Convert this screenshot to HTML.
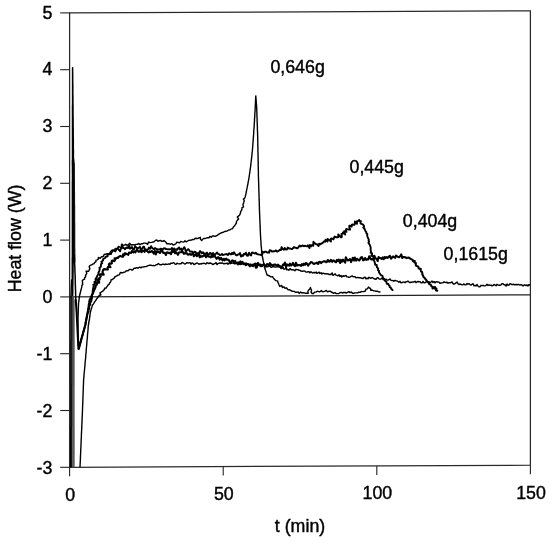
<!DOCTYPE html>
<html><head><meta charset="utf-8"><style>
html,body{margin:0;padding:0;background:#fff;}
svg{display:block;filter:grayscale(1);}
text{fill:#000;stroke:#000;stroke-width:0.4px;}
</style></head><body>
<svg width="550" height="542" viewBox="0 0 550 542">
<rect width="550" height="542" fill="#fff"/>
<defs><clipPath id="c"><polygon points="66.6,11.90 530.4,9.80 530.4,465.20 66.6,467.30"/></clipPath></defs>
<polygon points="69.6,12.90 530.4,10.80 530.4,465.20 69.6,467.30" fill="none" stroke="#2a2a2a" stroke-width="1.25"/><line x1="69.60" y1="296.90" x2="530.40" y2="294.80" stroke="#222" stroke-width="1.2"/><line x1="60.20" y1="467.30" x2="69.60" y2="467.30" stroke="#222" stroke-width="1.1"/><line x1="60.20" y1="410.50" x2="69.60" y2="410.50" stroke="#222" stroke-width="1.1"/><line x1="60.20" y1="353.70" x2="69.60" y2="353.70" stroke="#222" stroke-width="1.1"/><line x1="60.20" y1="296.90" x2="69.60" y2="296.90" stroke="#222" stroke-width="1.1"/><line x1="60.20" y1="240.10" x2="69.60" y2="240.10" stroke="#222" stroke-width="1.1"/><line x1="60.20" y1="183.30" x2="69.60" y2="183.30" stroke="#222" stroke-width="1.1"/><line x1="60.20" y1="126.50" x2="69.60" y2="126.50" stroke="#222" stroke-width="1.1"/><line x1="60.20" y1="69.70" x2="69.60" y2="69.70" stroke="#222" stroke-width="1.1"/><line x1="60.20" y1="12.90" x2="69.60" y2="12.90" stroke="#222" stroke-width="1.1"/><line x1="69.60" y1="467.30" x2="69.60" y2="476.30" stroke="#222" stroke-width="1.1"/><line x1="223.20" y1="466.60" x2="223.20" y2="475.60" stroke="#222" stroke-width="1.1"/><line x1="376.80" y1="465.90" x2="376.80" y2="474.90" stroke="#222" stroke-width="1.1"/><line x1="530.40" y1="465.20" x2="530.40" y2="474.20" stroke="#222" stroke-width="1.1"/>
<g clip-path="url(#c)">
<polyline points="72.3,297.0 72.3,295.0 72.3,293.0 72.3,291.0 72.3,289.0 72.3,286.9 72.3,284.9 72.3,282.9 72.3,280.9 72.3,278.9 72.3,276.9 72.3,274.9 72.3,272.9 72.3,270.9 72.3,268.8 72.3,266.8 72.3,264.8 72.3,262.8 72.3,260.8 72.3,258.8 72.4,256.8 72.4,254.8 72.4,252.7 72.4,250.7 72.4,248.7 72.4,246.7 72.4,244.7 72.4,242.7 72.4,240.7 72.4,238.7 72.4,236.7 72.4,234.6 72.4,232.6 72.4,230.6 72.4,228.6 72.4,226.6 72.4,224.6 72.4,222.6 72.4,220.6 72.4,218.6 72.4,216.5 72.4,214.5 72.4,212.5 72.4,210.5 72.4,208.5 72.4,206.5 72.4,204.5 72.4,202.5 72.4,200.5 72.4,198.4 72.4,196.4 72.4,194.4 72.4,192.4 72.4,190.4 72.4,188.4 72.4,186.4 72.4,184.4 72.4,182.3 72.5,180.3 72.5,178.3 72.5,176.3 72.5,174.3 72.5,172.3 72.5,170.3 72.5,168.3 72.5,166.3 72.5,164.2 72.5,162.2 72.5,160.2 72.5,158.2 72.5,156.2 72.5,154.2 72.5,152.2 72.5,150.2 72.5,148.2 72.5,146.1 72.5,144.1 72.5,142.1 72.5,140.1 72.5,138.1 72.5,136.1 72.5,134.1 72.5,132.1 72.5,130.1 72.5,128.0 72.5,126.0 72.5,124.0 72.5,122.0 72.5,120.0 72.5,118.0 72.5,116.0 72.5,114.0 72.5,112.0 72.5,109.9 72.5,107.9 72.5,105.9 72.6,103.9 72.6,101.9 72.6,99.9 72.6,97.9 72.6,95.9 72.6,93.8 72.6,91.8 72.6,89.8 72.6,87.8 72.6,85.8 72.6,83.8 72.6,81.8 72.6,79.8 72.6,77.8 72.6,75.7 72.6,73.7 72.6,71.7 72.6,69.7 72.6,67.7 72.6,69.7 72.6,71.8 72.7,73.8 72.7,75.8 72.7,77.8 72.7,79.9 72.7,81.9 72.8,83.9 72.8,85.9 72.8,88.0 72.8,90.0 72.8,92.0 72.8,94.1 72.9,96.1 72.9,98.1 72.9,100.1 72.9,102.2 72.9,104.2 73.0,106.2 73.0,108.2 73.0,110.3 73.0,112.3 73.0,114.3 73.0,116.3 73.1,118.4 73.1,120.4 73.1,122.4 73.1,124.5 73.1,126.5 73.2,128.5 73.2,130.5 73.2,132.6 73.2,134.6 73.2,136.6 73.3,138.6 73.3,140.7 73.3,142.7 73.3,144.7 73.3,146.8 73.3,148.8 73.4,150.8 73.4,152.8 73.4,154.9 73.4,156.9 73.4,158.9 73.5,160.9 73.5,163.0 73.5,165.0" fill="none" stroke="#000" stroke-width="1.5" stroke-linejoin="round" stroke-linecap="round" /><polyline points="73.1,160.0 73.1,162.0 73.1,164.0 73.2,166.0 73.2,168.0 73.2,170.0 73.2,172.0 73.2,174.0 73.3,176.0 73.3,178.0 73.3,180.0 73.3,182.0 73.3,184.0 73.4,186.0 73.4,188.0 73.4,190.0 73.4,192.0 73.4,194.0 73.5,196.0 73.5,198.0 73.5,200.0 73.5,202.0 73.5,204.0 73.5,206.0 73.5,208.0 73.5,210.0 73.5,212.0 73.5,214.0 73.5,216.0 73.5,218.0 73.5,220.0 73.5,222.0 73.5,224.0 73.5,226.0 73.5,228.0 73.5,230.0 73.6,232.0 73.6,234.0 73.6,236.0 73.6,238.0 73.6,240.0 73.6,242.0 73.6,244.0 73.6,246.0 73.6,248.0 73.6,250.0 73.6,252.0 73.6,254.0 73.6,256.0 73.6,258.0 73.6,260.0 73.6,262.0" fill="none" stroke="#000" stroke-width="2.5" stroke-linejoin="round" stroke-linecap="round" /><polyline points="74.2,163.0 74.2,165.0 74.2,167.1 74.3,169.1 74.3,171.2 74.3,173.2 74.3,175.3 74.3,177.3 74.3,179.3 74.4,181.4 74.4,183.4 74.4,185.5 74.4,187.5 74.4,189.6 74.4,191.6 74.5,193.7 74.5,195.7 74.5,197.7 74.5,199.8 74.5,201.8 74.5,203.9 74.6,205.9 74.6,208.0 74.6,210.0 74.6,212.0 74.6,214.0 74.6,216.0 74.6,218.0 74.6,220.0 74.6,222.0 74.7,224.0 74.7,226.0 74.7,228.0 74.7,230.0 74.7,232.0 74.7,234.0 74.7,236.0 74.7,238.0 74.7,240.0 74.7,242.0 74.7,244.0 74.7,246.0 74.7,248.0 74.8,250.0 74.8,252.0 74.8,254.0 74.8,256.0 74.8,258.0 74.8,260.0 74.8,262.0" fill="none" stroke="#111" stroke-width="1.2" stroke-linejoin="round" stroke-linecap="round" /><polyline points="73.1,262.0 73.1,264.1 73.0,266.1 73.0,268.2 73.0,270.2 73.0,272.3 72.9,274.4 72.9,276.4 72.9,278.5 72.8,280.5 72.8,282.6 72.8,284.6 72.7,286.7 72.7,288.8 72.7,290.8 72.7,292.9 72.6,294.9 72.6,297.0" fill="none" stroke="#000" stroke-width="1.5" stroke-linejoin="round" stroke-linecap="round" /><polyline points="74.3,255.0 74.4,257.0 74.5,259.0 74.5,261.0 74.6,263.0 74.7,265.0 74.8,267.0 74.9,269.0 74.9,271.0 75.0,273.0 75.1,275.0 75.2,277.1 75.2,279.3 75.3,281.4 75.3,283.6 75.4,285.7 75.4,287.9 75.5,290.0 75.6,292.0 75.6,294.0 75.7,296.0 75.7,298.0 75.8,300.0" fill="none" stroke="#000" stroke-width="1.5" stroke-linejoin="round" stroke-linecap="round" /><polyline points="73.1,297.0 73.1,299.0 73.1,301.0 73.1,303.0 73.1,305.0 73.1,307.1 73.1,309.1 73.1,311.1 73.1,313.1 73.1,315.1 73.1,317.1 73.1,319.1 73.1,321.1 73.1,323.2 73.1,325.2 73.1,327.2 73.1,329.2 73.1,331.2 73.1,333.2 73.1,335.2 73.1,337.2 73.1,339.2 73.2,341.3 73.2,343.3 73.2,345.3 73.2,347.3 73.2,349.3 73.2,351.3 73.2,353.3 73.2,355.3 73.2,357.3 73.2,359.4 73.2,361.4 73.2,363.4 73.2,365.4 73.2,367.4 73.2,369.4 73.2,371.4 73.2,373.4 73.2,375.5 73.2,377.5 73.2,379.5 73.2,381.5 73.2,383.5 73.2,385.5 73.2,387.5 73.2,389.5 73.2,391.5 73.2,393.6 73.2,395.6 73.2,397.6 73.2,399.6 73.2,401.6 73.2,403.6 73.2,405.6 73.2,407.6 73.2,409.7 73.2,411.7 73.2,413.7 73.2,415.7 73.2,417.7 73.2,419.7 73.2,421.7 73.2,423.7 73.2,425.7 73.3,427.8 73.3,429.8 73.3,431.8 73.3,433.8 73.3,435.8 73.3,437.8 73.3,439.8 73.3,441.8 73.3,443.8 73.3,445.9 73.3,447.9 73.3,449.9 73.3,451.9 73.3,453.9 73.3,455.9 73.3,457.9 73.3,459.9 73.3,462.0 73.3,464.0 73.3,466.0 73.3,468.0 73.3,470.0" fill="none" stroke="#555" stroke-width="2.2" stroke-linejoin="round" stroke-linecap="round" /><polyline points="74.3,300.0 74.3,302.0 74.3,304.0 74.3,306.0 74.3,308.0 74.3,310.0 74.3,312.0 74.3,314.0 74.3,316.0 74.3,318.0 74.3,320.0 74.3,322.0 74.3,324.0 74.3,326.0 74.3,328.0 74.3,330.0 74.3,332.0 74.3,334.0 74.3,336.0 74.3,338.0 74.3,340.0 74.3,342.0 74.3,344.0 74.3,346.0 74.3,348.0 74.3,350.0 74.3,352.0 74.3,354.0 74.3,356.0 74.3,358.0 74.3,360.0 74.3,362.0 74.3,364.0 74.3,366.0 74.3,368.0 74.3,370.0 74.3,372.0 74.3,374.0 74.3,376.0 74.3,378.0 74.3,380.0 74.3,382.0 74.3,384.0 74.2,386.0 74.2,388.0 74.2,390.0 74.2,392.0 74.2,394.0 74.2,396.0 74.2,398.0 74.2,400.0 74.2,402.0 74.2,404.0 74.2,406.0 74.2,408.0 74.2,410.0 74.2,412.0 74.2,414.0 74.2,416.0 74.2,418.0 74.2,420.0 74.2,422.0 74.2,424.0 74.2,426.0 74.2,428.0 74.2,430.0 74.2,432.0 74.2,434.0 74.2,436.0 74.2,438.0 74.2,440.0 74.2,442.0 74.2,444.0 74.2,446.0 74.2,448.0 74.2,450.0 74.2,452.0 74.2,454.0 74.2,456.0 74.2,458.0 74.2,460.0 74.2,462.0 74.2,464.0 74.2,466.0 74.2,468.0 74.2,470.0" fill="none" stroke="#666" stroke-width="0.8" stroke-linejoin="round" stroke-linecap="round" /><polyline points="70.7,470.0 70.7,468.0 70.7,466.0 70.7,464.0 70.7,462.0 70.7,459.9 70.7,457.9 70.7,455.9 70.7,453.9 70.7,451.9 70.7,449.9 70.7,447.9 70.7,445.9 70.7,443.8 70.7,441.8 70.7,439.8 70.7,437.8 70.7,435.8 70.7,433.8 70.7,431.8 70.7,429.8 70.7,427.8 70.8,425.7 70.8,423.7 70.8,421.7 70.8,419.7 70.8,417.7 70.8,415.7 70.8,413.7 70.8,411.7 70.8,409.7 70.8,407.6 70.8,405.6 70.8,403.6 70.8,401.6 70.8,399.6 70.8,397.6 70.8,395.6 70.8,393.6 70.8,391.5 70.8,389.5 70.8,387.5 70.8,385.5 70.8,383.5 70.8,381.5 70.8,379.5 70.8,377.5 70.8,375.5 70.8,373.4 70.8,371.4 70.8,369.4 70.8,367.4 70.8,365.4 70.8,363.4 70.8,361.4 70.8,359.4 70.8,357.3 70.8,355.3 70.8,353.3 70.8,351.3 70.8,349.3 70.8,347.3 70.8,345.3 70.8,343.3 70.8,341.3 70.9,339.2 70.9,337.2 70.9,335.2 70.9,333.2 70.9,331.2 70.9,329.2 70.9,327.2 70.9,325.2 70.9,323.2 70.9,321.1 70.9,319.1 70.9,317.1 70.9,315.1 70.9,313.1 70.9,311.1 70.9,309.1 70.9,307.1 70.9,305.0 70.9,303.0 70.9,301.0 70.9,299.0 70.9,297.0 71.0,294.9 71.1,292.8 71.2,290.6 71.2,288.5 71.3,286.4 71.4,284.2 71.5,282.1 71.6,280.0" fill="none" stroke="#000" stroke-width="1.4" stroke-linejoin="round" stroke-linecap="round" /><polyline points="71.6,470.0 71.6,468.0 71.6,466.0 71.6,464.0 71.6,462.0 71.6,459.9 71.6,457.9 71.6,455.9 71.6,453.9 71.6,451.9 71.6,449.9 71.6,447.9 71.6,445.9 71.6,443.8 71.6,441.8 71.6,439.8 71.6,437.8 71.6,435.8 71.6,433.8 71.6,431.8 71.6,429.8 71.6,427.8 71.6,425.7 71.6,423.7 71.6,421.7 71.6,419.7 71.6,417.7 71.6,415.7 71.6,413.7 71.6,411.7 71.6,409.7 71.6,407.6 71.6,405.6 71.6,403.6 71.6,401.6 71.6,399.6 71.6,397.6 71.6,395.6 71.6,393.6 71.6,391.5 71.6,389.5 71.6,387.5 71.6,385.5 71.7,383.5 71.7,381.5 71.7,379.5 71.7,377.5 71.7,375.5 71.7,373.4 71.7,371.4 71.7,369.4 71.7,367.4 71.7,365.4 71.7,363.4 71.7,361.4 71.7,359.4 71.7,357.3 71.7,355.3 71.7,353.3 71.7,351.3 71.7,349.3 71.7,347.3 71.7,345.3 71.7,343.3 71.7,341.3 71.7,339.2 71.7,337.2 71.7,335.2 71.7,333.2 71.7,331.2 71.7,329.2 71.7,327.2 71.7,325.2 71.7,323.2 71.7,321.1 71.7,319.1 71.7,317.1 71.7,315.1 71.7,313.1 71.7,311.1 71.7,309.1 71.7,307.1 71.7,305.0 71.7,303.0 71.7,301.0 71.7,299.0 71.7,297.0" fill="none" stroke="#111" stroke-width="1.2" stroke-linejoin="round" stroke-linecap="round" /><polyline points="78.6,346.0 78.5,344.8 78.4,343.5 78.4,342.2 78.3,341.0 78.2,339.8 78.2,338.5 78.1,337.2 78.0,336.0 78.0,334.8 78.0,333.6 78.0,332.4 78.0,331.2 78.0,330.0 78.0,328.8 78.0,327.6 78.0,326.4 78.0,325.2 78.0,324.0 78.0,322.8 78.0,321.6 78.0,320.4 78.0,319.2 78.0,318.0 78.0,316.8 78.1,315.5 78.2,314.2 78.2,313.0 78.2,311.8 78.3,310.5 78.3,309.2 78.4,308.0 78.4,306.8 78.5,305.5 78.5,304.2 78.6,303.0 78.8,301.6 79.0,300.2 79.1,298.8 79.3,297.4 79.5,296.0 79.8,294.7 80.2,293.3 80.5,292.0 80.8,290.7 81.2,289.3 81.5,288.0 81.8,286.8 81.8,285.6 82.8,284.6 82.4,283.3 82.6,282.1 82.3,280.8 83.2,279.7 84.6,279.1 84.6,277.7 85.6,276.9 85.5,275.5 86.2,274.5 86.8,273.2 86.1,271.2 88.7,271.2 89.2,269.9 89.8,268.8 89.2,266.5 90.1,265.4 91.5,264.9 92.7,264.1 94.1,263.6 94.7,262.4 95.9,261.8 96.0,260.2 97.4,259.8 98.3,258.9 98.4,257.4 100.2,258.3 101.3,256.8 103.0,256.9 103.9,254.9 105.0,254.2 106.3,254.0 107.5,253.6 109.0,253.6 110.0,252.7 110.8,251.4 111.6,250.3 112.9,249.9 114.7,250.5 115.2,248.4 116.7,248.7 117.8,248.4 118.3,246.4 120.0,247.2 121.6,247.7 121.5,244.5 123.3,245.4 124.5,245.1 125.7,244.3 127.2,245.3 128.4,244.7 129.6,243.3 131.1,245.0 132.4,244.8 133.8,244.8 134.9,245.0 136.2,244.4 137.5,244.3 138.8,243.4 140.1,244.8 141.2,243.8 142.5,243.8 143.6,243.1 144.9,243.1 146.2,243.3 147.6,244.4 148.6,241.9 149.7,242.6 151.6,242.4 153.0,242.0 154.3,241.6 155.4,240.4 156.7,240.0 158.0,241.3 159.2,240.7 160.5,240.4 161.8,241.3 163.2,241.2 164.0,240.4 164.9,241.3 165.9,242.2 166.8,243.7 168.1,243.6 169.3,243.9 170.5,244.2 172.0,243.6 173.2,245.1 174.5,244.5 175.8,243.8 176.8,242.1 178.3,242.5 179.7,242.8 180.8,241.4 182.3,241.9 183.8,242.1 184.9,240.8 186.4,241.8 187.6,241.0 188.7,240.4 190.0,240.2 191.3,240.1 192.5,239.5 193.9,239.6 194.9,238.5 196.2,238.3 197.6,238.6 198.8,237.8 200.3,237.3 200.4,239.0 201.7,240.6 202.6,239.3 203.6,238.5 205.0,238.5 206.2,238.1 207.5,237.6 209.0,237.8 209.9,236.3 211.3,237.2 212.4,235.9 213.7,236.0 215.2,236.4 216.8,235.7 218.2,234.6 219.4,233.8 220.7,233.1 222.0,232.5 223.4,232.2 224.6,231.5 226.1,231.3 227.4,230.8 228.7,230.0 230.2,229.7 231.1,228.9 232.5,228.8 233.1,227.5 233.9,226.4 234.8,225.5 235.5,224.3 236.4,223.2 236.4,221.7 237.3,220.3 238.6,218.9 237.3,217.0 238.4,216.1 239.5,215.2 240.1,214.1 240.5,212.8 240.6,211.5 241.6,210.4 241.9,209.1 242.0,207.7 243.6,206.9 243.1,205.5 243.0,204.2 243.6,203.1 243.9,201.9 244.3,200.7 243.4,199.1 244.7,198.1 245.2,196.9 245.5,195.6 245.8,194.3 246.1,192.9 246.4,191.5 246.6,190.2 246.9,188.8 247.2,187.4 247.4,186.2 247.7,185.0 247.9,183.8 248.1,182.6 248.3,181.4 248.6,180.2 248.8,179.0 249.0,177.7 249.2,176.3 249.4,175.0 249.6,173.7 249.8,172.4 250.0,171.0 250.2,169.7 250.3,168.5 250.5,167.3 250.7,166.1 250.8,164.8 250.9,163.6 251.1,162.4 251.2,161.2 251.4,160.0 251.5,158.8 251.6,157.6 251.8,156.3 251.9,155.1 252.0,153.9 252.1,152.7 252.3,151.4 252.4,150.2 252.5,149.0 252.6,147.7 252.7,146.4 252.8,145.1 252.9,143.8 253.0,142.4 253.1,141.1 253.2,139.8 253.3,138.5 253.4,137.2 253.5,136.0 253.6,134.7 253.7,133.4 253.7,132.2 253.8,130.9 253.9,129.7 254.0,128.4 254.1,127.1 254.2,125.9 254.2,124.6 254.3,123.3 254.4,122.1 254.5,120.8 254.5,119.5 254.6,118.3 254.7,117.0 254.8,115.7 254.8,114.3 254.9,113.0 255.0,111.7 255.1,110.4 255.1,109.0 255.2,107.7 255.3,106.4 255.3,105.1 255.4,103.8 255.5,102.5 255.5,101.1 255.6,99.8 255.7,98.5 255.7,97.2 255.8,95.9 255.9,97.2 256.0,98.5 256.1,99.8 256.2,101.1 256.3,102.5 256.4,103.8 256.5,105.1 256.6,106.4 256.7,107.7 256.7,108.9 256.8,110.1 256.8,111.3 256.9,112.5 256.9,113.7 256.9,115.0 257.0,116.2 257.0,117.4 257.1,118.6 257.1,119.8 257.1,121.0 257.2,122.2 257.2,123.4 257.3,124.6 257.3,125.8 257.4,127.0 257.4,128.3 257.4,129.5 257.5,130.7 257.5,131.9 257.6,133.1 257.6,134.3 257.6,135.5 257.7,136.8 257.7,138.0 257.7,139.2 257.7,140.5 257.8,141.7 257.8,142.9 257.8,144.1 257.8,145.4 257.9,146.6 257.9,147.8 257.9,149.1 257.9,150.3 257.9,151.5 258.0,152.8 258.0,154.0 258.0,155.2 258.1,156.4 258.1,157.7 258.1,158.9 258.1,160.1 258.2,161.4 258.2,162.6 258.2,163.8 258.2,165.1 258.2,166.3 258.3,167.5 258.3,168.8 258.3,170.0 258.4,171.2 258.4,172.4 258.4,173.7 258.4,174.9 258.4,176.1 258.5,177.4 258.5,178.6 258.5,179.8 258.6,181.0 258.6,182.3 258.7,183.5 258.7,184.7 258.7,185.9 258.8,187.1 258.8,188.4 258.8,189.6 258.9,190.8 258.9,192.0 259.0,193.2 259.0,194.5 259.0,195.7 259.1,196.9 259.1,198.1 259.1,199.4 259.2,200.6 259.2,201.8 259.3,203.0 259.3,204.2 259.3,205.5 259.4,206.7 259.4,207.9 259.4,209.1 259.5,210.3 259.5,211.6 259.6,212.8 259.6,214.0 259.7,215.2 259.7,216.5 259.8,217.7 259.8,218.9 259.9,220.2 259.9,221.4 260.0,222.6 260.0,223.9 260.1,225.1 260.1,226.4 260.2,227.6 260.2,228.8 260.3,230.1 260.3,231.3 260.4,232.5 260.4,233.8 260.5,235.0 260.6,236.2 260.6,237.5 260.7,238.8 260.8,240.0 260.9,241.2 261.0,242.5 261.0,243.8 261.1,245.0 261.2,246.3 261.4,247.7 261.5,249.0 261.6,250.4 261.7,251.7 261.9,253.1 262.0,254.4 262.2,255.7 262.5,257.0 262.8,258.3 263.0,259.6 263.2,260.9 263.5,262.1 263.8,263.4 264.0,264.7 264.2,266.0 264.5,267.3 264.9,268.6 265.4,269.9 265.8,271.1 266.2,272.4 266.7,273.7 267.1,275.0 268.4,275.5 269.7,276.0 270.8,276.9 272.6,276.6 273.3,277.8 274.0,278.9 275.0,279.7 275.6,280.6 277.6,280.9 277.9,282.4 278.6,283.6 279.0,285.0 279.8,286.5 281.7,285.4 282.4,287.5 284.1,286.9 285.1,288.3 286.6,287.8 287.4,289.0 288.3,289.9 289.7,289.8 290.7,290.4 291.7,291.1 293.0,291.3 294.3,291.4 295.5,292.3 296.8,292.3 298.2,291.9 299.2,293.5 300.7,292.0 301.9,293.0 303.1,292.6 304.3,292.9 305.5,293.3 306.8,293.2 308.3,293.3 307.9,291.6 308.4,290.2 309.8,289.1 310.4,287.5 310.9,288.8 311.6,290.2 311.0,292.0 312.1,293.5 313.5,293.5 314.6,292.1 316.0,292.1 317.2,291.2 318.8,291.7 320.0,291.7 321.3,290.6 322.5,291.8 323.7,291.6 325.0,291.1 326.3,290.4 327.5,291.9 328.8,291.3 330.1,291.1 331.2,292.0 332.4,292.5 333.5,293.4 335.0,292.7 336.3,293.6 337.6,293.6 338.8,293.5 340.0,292.7 341.2,292.3 342.5,293.0 343.8,292.5 345.0,292.4 346.2,293.1 347.5,292.4 348.8,291.6 350.0,292.6 351.3,292.0 352.5,293.3 353.7,293.2 354.9,292.9 356.2,292.9 357.6,292.9 358.8,292.2 360.2,292.4 361.2,291.5 362.6,291.6 363.9,291.5 365.5,291.0 365.8,289.3 367.3,288.9 368.5,287.0 369.3,288.0 370.5,288.4 370.7,290.2 372.1,290.0 373.3,290.7 374.7,290.9 376.0,291.2 377.4,291.2 378.6,291.9 380.0,292.0" fill="none" stroke="#000" stroke-width="1.4" stroke-linejoin="round" stroke-linecap="round" /><polyline points="78.8,349.0 79.1,348.0 79.3,347.0 79.6,346.0 79.9,345.0 80.2,344.0 80.4,343.0 80.7,342.0 81.0,341.0 81.2,340.0 81.5,339.0 81.8,338.0 82.0,337.0 82.3,336.0 82.6,335.0 82.9,334.0 83.1,333.0 83.4,332.0 83.7,331.0 83.9,330.0 84.2,329.0 84.5,328.0 84.8,327.0 85.0,326.0 85.3,325.0 85.5,323.9 85.7,322.9 85.9,321.8 86.1,320.8 86.3,319.7 86.5,318.6 86.7,317.6 86.9,316.5 87.1,315.5 87.3,314.4 87.6,313.4 87.9,312.4 88.7,311.5 88.4,310.4 88.9,309.4 89.3,308.4 89.2,307.3 89.2,306.2 89.7,305.3 90.4,304.4 89.9,303.2 90.5,302.3 91.2,301.4 91.5,300.4 91.5,299.3 92.0,298.3 92.0,297.3 91.8,296.2 91.8,295.2 92.3,294.2 92.9,293.2 92.6,292.1 92.7,291.1 92.9,290.1 92.9,289.0 93.5,288.1 93.3,287.0 93.9,286.0 93.3,284.8 94.5,284.0 94.5,282.9 94.5,281.8 95.6,281.1 95.7,280.0 95.5,278.8 96.3,277.9 96.9,277.0 97.1,276.0 97.8,275.1 98.2,274.1 98.5,273.1 98.7,272.0 99.3,271.1 99.5,270.1 99.8,269.0 99.4,267.8 100.5,267.1 101.0,266.1 100.9,265.0 101.1,264.0 102.2,263.2 101.4,261.8 102.4,261.0 103.1,260.5 103.1,259.0 104.2,258.5 105.2,258.0 105.5,256.8 106.6,256.5 107.7,256.3 107.5,254.1 108.8,254.3 109.9,254.0 111.1,254.0 111.4,252.6 112.2,251.9 112.5,250.6 113.8,250.6 115.4,251.4 116.0,250.2 116.6,248.8 117.6,248.3 120.2,251.3 120.5,249.4 121.3,248.4 122.1,244.4 123.0,248.0 124.0,247.9 124.9,249.3 126.0,247.9 127.0,247.4 128.0,248.1 129.1,245.4 130.0,248.7 131.0,248.0 132.0,246.9 132.9,249.2 133.9,249.8 135.1,246.3 136.0,247.1 137.0,248.2 138.0,248.1 139.0,247.5 140.1,246.9 140.9,250.4 141.9,249.2 143.1,246.8 144.1,246.7 144.9,250.1 145.9,249.4 146.9,250.4 148.0,249.3 149.0,247.5 150.0,248.8 151.1,246.2 152.0,247.8 153.0,248.6 154.0,249.3 155.0,248.0 156.0,248.7 157.0,249.4 158.0,249.3 159.0,249.7 160.0,249.2 161.0,248.7 162.0,249.9 163.0,249.1 164.0,248.2 165.0,248.4 166.0,249.1 167.0,249.1 168.0,249.4 169.0,249.2 170.0,249.4 171.0,249.1 172.0,247.9 173.0,249.8 174.0,250.5 175.0,249.9 176.0,249.2 177.0,249.9 178.0,248.4 179.1,247.4 180.0,249.6 181.1,248.6 181.9,250.6 183.2,248.7 184.4,247.2 185.2,249.1 185.8,252.1 187.1,250.1 188.2,249.1 189.1,249.9 189.9,251.5 190.9,251.6 192.0,251.4 192.8,252.9 193.9,252.2 195.0,251.6 195.9,252.4 196.7,253.7 197.9,253.1 198.8,253.3 200.1,251.1 201.0,252.2 201.9,253.3 203.0,252.2 203.9,253.8 204.9,253.4 205.9,253.8 207.0,252.6 207.8,255.7 208.9,254.4 210.0,252.9 211.0,253.3 211.8,256.1 213.0,253.0 213.9,254.4 214.9,254.6 216.0,253.6 217.1,252.4 218.0,253.9 219.0,254.2 219.9,255.1 220.9,254.8 222.0,254.0 222.9,255.0 224.0,254.7 225.0,254.4 226.0,254.3 227.0,254.0 227.9,255.1 229.1,253.3 230.0,253.8 231.0,254.5 232.0,252.9 233.0,254.1 234.0,252.3 235.0,253.8 236.0,255.2 237.0,255.2 238.0,254.5 239.0,254.3 240.0,253.0 241.0,256.6 242.0,255.2 243.0,255.9 244.0,253.7 245.0,254.5 246.0,252.7 247.0,255.6 248.0,255.8 249.0,252.7 250.0,254.7 251.1,255.4 251.8,252.7 252.8,252.5 253.9,253.2 254.9,253.6 255.8,252.7 257.0,254.1 258.0,254.3 259.1,254.6 260.1,254.6 261.3,255.2 262.2,254.7 262.7,251.8 263.9,252.5 264.8,251.8 265.8,251.6 267.0,252.5 268.0,252.4 269.1,252.7 269.7,250.3 270.8,250.5 272.0,251.7 273.0,251.3 273.9,251.1 275.0,251.2 275.9,250.3 277.1,251.7 278.1,251.2 279.0,250.6 279.9,249.8 281.0,250.1 281.5,247.2 282.8,248.9 284.0,249.8 284.7,248.0 286.0,249.6 287.0,249.4 287.7,247.6 289.0,248.6 289.9,248.4 291.1,249.0 292.1,249.0 293.0,248.2 293.9,247.1 295.0,247.7 296.0,247.7 297.1,248.4 298.1,247.7 298.9,246.5 299.7,245.6 300.9,246.5 301.9,245.9 302.8,245.4 304.0,246.3 304.9,245.7 306.0,246.1 307.1,246.4 307.9,245.2 309.5,248.0 309.9,245.0 311.3,246.3 312.0,245.0 313.3,245.8 313.4,241.8 314.8,243.3 316.1,244.2 317.1,244.3 318.6,246.0 319.1,243.6 320.5,244.3 321.3,243.4 322.4,243.2 323.2,242.4 323.9,241.4 325.2,241.7 325.6,239.7 327.5,241.6 327.6,239.0 329.1,239.9 330.9,241.5 330.9,238.7 332.0,238.5 333.5,239.3 334.0,237.7 334.7,236.5 336.2,237.3 337.5,237.3 338.4,237.0 338.2,234.4 341.0,237.4 341.9,236.8 341.5,234.0 342.5,233.9 342.9,232.4 345.2,234.5 344.2,231.2 346.5,231.9 345.9,229.9 346.3,228.9 348.7,229.6 350.2,229.5 349.3,227.3 349.3,225.7 351.7,226.7 351.6,224.9 352.7,224.5 354.5,224.7 355.0,223.7 354.8,221.5 357.0,223.8 357.0,221.1 358.1,221.0 359.2,220.0 359.7,221.0 360.9,221.2 360.3,222.9 361.2,223.9 362.8,224.3 363.6,225.3 364.1,226.2 363.3,227.7 364.4,228.3 364.6,229.3 365.1,230.1 365.5,231.2 366.3,232.1 366.3,233.3 367.3,234.1 367.2,235.4 367.4,236.5 367.8,237.5 368.3,238.5 368.8,239.4 368.6,240.5 369.1,241.5 368.4,242.7 369.0,243.6 369.6,244.5 370.0,245.5 370.3,246.4 370.7,247.4 370.7,248.5 370.6,249.5 370.8,250.6 371.0,251.6 370.6,252.7 372.1,253.4 372.0,254.5 371.2,255.9 373.5,256.2 373.3,257.4 373.3,258.5 373.7,259.5 373.9,260.6 374.6,261.5 374.6,262.6 375.1,263.5 375.2,264.7 376.7,265.0 376.8,266.2 376.9,267.3 377.8,268.0 378.2,268.9 378.0,270.1 379.0,270.8 378.9,272.0 379.3,272.9 380.0,273.8 380.6,274.7 381.5,275.4 382.6,276.0 382.7,277.2 383.2,278.3 384.2,278.9 384.7,279.9 385.1,281.0 386.4,281.4 386.5,282.6 386.8,283.8 388.3,284.0 388.8,285.1 389.6,285.8 389.7,287.2 390.8,287.7 391.4,289.0 392.5,290.0" fill="none" stroke="#000" stroke-width="1.9" stroke-linejoin="round" stroke-linecap="round" /><polyline points="75.8,300.0 75.9,301.0 75.9,302.0 76.0,303.0 76.1,304.0 76.1,305.0 76.2,306.0 76.3,307.0 76.3,308.0 76.4,309.0 76.5,310.0 76.5,311.0 76.6,312.0 76.7,313.0 76.7,314.0 76.8,315.0 76.8,316.0 76.9,317.0 76.9,318.0 77.0,319.0 77.0,320.0 77.1,321.0 77.1,322.0 77.2,323.0 77.2,324.0 77.3,325.0 77.3,326.0 77.4,327.0 77.4,328.0 77.5,329.0 77.5,330.0 77.6,331.0 77.6,332.0 77.7,333.0 77.7,334.0 77.8,335.0 77.8,336.0 77.9,337.0 77.9,338.0 78.0,339.0 78.0,340.0 78.1,341.0 78.1,342.0 78.2,343.0 78.2,344.0 78.3,345.0 78.3,346.0 78.4,347.0 78.4,348.0 78.5,349.0 78.8,348.0 79.1,347.0 79.3,346.0 79.6,345.0 79.9,344.0 80.2,343.0 80.5,342.0 80.8,341.0 81.0,340.0 81.3,339.0 81.6,338.0 81.9,337.0 82.2,336.0 82.5,335.0 82.8,334.0 83.0,333.0 83.3,332.0 83.6,331.0 83.9,330.0 84.2,329.0 84.5,328.0 84.7,327.0 85.0,326.0 85.3,325.0 85.5,324.0 85.7,323.0 85.8,322.0 86.0,321.0 86.2,320.0 86.4,318.9 86.6,317.9 86.8,316.8 87.0,315.8 87.2,314.7 87.4,313.6 87.6,312.6 87.8,311.5 88.0,310.5 88.2,309.4 88.4,308.3 88.5,307.2 88.7,306.1 88.8,304.9 89.0,303.8 89.2,302.7 89.3,301.6 89.5,300.5 89.9,299.5 90.3,298.6 90.8,297.6 91.2,296.6 91.8,295.5 92.3,294.4 92.9,293.3 93.3,292.2 93.8,291.1 94.2,290.0 94.7,289.0 95.1,288.0 95.6,287.0 95.4,285.7 96.5,285.0 96.9,284.0 95.5,282.3 99.2,282.7 99.0,281.5 96.7,279.4 99.7,279.5 99.2,278.1 100.1,277.5 100.7,276.5 99.7,274.4 101.5,274.4 103.7,274.6 102.5,272.3 102.8,271.1 103.1,270.0 104.0,269.1 106.0,269.4 107.9,269.5 107.5,267.7 108.1,266.7 110.5,267.3 108.8,264.5 109.5,263.4 111.1,263.8 111.9,263.2 111.6,261.2 112.3,260.5 114.1,261.1 114.9,260.4 114.6,258.4 116.1,258.7 116.7,257.8 118.1,258.0 118.5,256.9 119.5,256.5 120.3,255.8 121.9,256.7 123.0,256.6 123.1,254.4 124.5,255.2 124.7,253.2 126.0,253.6 127.2,254.2 128.3,254.8 129.0,252.6 130.1,252.8 131.2,252.9 132.0,250.9 133.3,252.4 134.2,251.5 135.4,252.4 136.2,250.6 137.1,249.5 138.4,251.6 139.5,251.6 140.5,250.6 141.5,252.2 142.6,251.0 143.6,250.7 144.6,251.9 145.7,249.7 146.7,250.7 147.7,251.5 148.7,252.5 149.7,251.4 150.7,252.0 151.8,250.9 152.8,252.0 153.8,253.6 154.9,251.0 155.8,254.4 157.0,251.2 157.9,251.9 159.0,252.1 160.0,253.1 161.0,250.7 162.1,249.7 163.0,252.7 164.0,253.0 165.0,252.8 165.9,255.0 167.0,252.4 168.0,252.5 169.0,253.2 170.0,252.7 171.0,254.1 172.0,250.9 173.0,251.9 174.1,248.6 175.0,253.3 176.0,252.0 177.0,253.4 177.9,254.8 179.0,252.5 180.0,252.2 181.1,252.1 182.1,251.9 183.1,252.3 183.9,253.8 185.0,253.3 186.0,253.5 187.0,253.4 187.9,254.7 188.9,254.4 190.0,253.8 190.9,254.9 192.0,254.1 193.2,253.2 193.8,256.2 194.9,255.3 196.2,253.9 196.8,256.2 197.9,255.6 199.3,253.6 199.8,257.3 201.0,256.0 201.9,256.7 203.0,256.0 204.0,255.7 205.2,254.3 205.9,257.2 207.0,256.2 208.0,256.0 209.0,256.8 210.0,256.6 210.9,257.3 212.0,256.3 213.0,256.8 214.2,254.6 215.1,256.5 215.9,257.9 216.7,258.8 218.1,257.2 219.0,257.7 219.7,259.7 221.1,257.8 221.8,259.2 222.6,260.4 224.0,258.8 224.6,260.3 226.2,258.6 226.9,259.8 228.0,259.8 229.0,260.3 229.6,261.7 230.2,263.3 232.2,260.4 233.2,260.8 233.8,262.2 235.2,260.9 235.9,262.8 236.9,263.1 238.1,262.4 238.9,263.5 240.4,261.4 240.8,264.1 242.4,261.9 243.2,263.0 244.1,263.4 245.0,263.8 245.9,265.2 247.0,264.4 248.0,264.0 249.0,265.1 249.9,266.3 251.0,264.6 252.0,265.1 252.9,266.1 254.0,265.1 255.1,263.5 255.8,267.7 256.8,267.4 258.1,262.9 259.0,265.1 260.0,265.7 261.0,266.3 262.0,266.0 263.0,264.9 264.0,264.1 265.0,265.4 266.0,266.4 267.0,264.1 268.0,264.2 269.0,265.3 270.0,263.2 271.0,265.1 272.0,264.9 273.0,265.9 274.0,264.6 275.0,264.5 276.0,265.0 277.0,265.4 278.0,264.7 279.0,265.5 280.0,266.3 281.1,266.8 282.1,267.3 283.0,264.5 284.0,264.9 284.9,262.5 286.1,267.3 287.0,264.4 288.0,265.1 289.0,265.7 289.9,263.6 291.0,265.5 292.0,264.9 292.9,262.9 294.0,265.2 295.1,266.1 295.9,262.7 297.0,265.6 298.0,264.9 299.0,265.2 300.1,265.1 301.2,265.9 302.0,264.1 303.1,265.2 303.9,263.7 305.1,264.8 305.9,263.0 307.0,263.7 308.2,265.6 309.1,264.0 310.0,263.3 310.9,262.1 311.9,262.3 313.0,263.3 314.1,264.0 315.1,263.3 316.1,263.3 317.0,262.6 318.2,264.0 319.0,262.0 319.9,261.7 321.1,263.1 322.0,262.1 323.0,261.6 323.9,261.2 325.0,261.4 326.1,262.2 327.0,261.8 327.8,260.0 329.1,261.7 330.0,261.3 330.9,259.9 332.1,261.8 333.0,260.6 334.0,260.5 335.1,261.7 336.1,262.2 337.0,259.9 338.0,261.1 338.9,259.6 340.2,263.0 341.0,259.9 342.1,261.7 343.0,259.6 344.1,261.1 345.2,262.6 345.8,257.3 347.0,259.5 348.0,260.5 349.0,259.8 350.0,259.1 351.1,262.1 352.0,259.8 352.9,257.8 354.1,260.5 354.9,257.6 356.1,260.7 357.0,258.8 358.0,259.5 359.1,260.6 360.0,259.3 360.9,257.6 362.0,257.2 363.2,260.3 364.2,259.8 365.1,258.0 366.3,259.8 367.3,259.3 368.3,259.4 369.2,256.2 370.3,258.3 371.4,259.5 372.4,259.3 373.5,259.4 374.3,255.7 375.5,258.5 376.6,258.8 377.7,261.0 378.5,257.1 379.6,257.7 380.6,258.1 381.7,259.0 382.7,257.4 383.8,259.1 384.7,257.0 385.8,258.1 386.8,257.1 387.8,257.8 388.8,256.8 389.8,255.8 391.1,258.7 392.0,257.6 392.9,256.5 394.0,257.2 395.2,257.8 395.9,255.5 397.1,256.3 398.1,257.0 399.1,257.1 400.2,256.2 401.3,254.3 402.2,258.0 403.2,257.0 404.3,257.1 405.5,257.2 406.3,258.1 407.6,257.8 408.9,257.6 409.9,258.3 410.7,258.9 411.7,259.4 412.6,259.8 413.0,261.3 414.8,261.0 414.4,262.5 415.8,262.9 415.8,264.3 415.9,265.5 417.1,266.1 418.2,266.6 418.5,267.8 419.1,268.7 420.7,268.9 420.8,270.2 421.1,271.4 422.1,272.1 422.3,273.3 422.4,274.5 422.9,275.5 423.4,276.6 424.1,277.5 425.0,278.3 425.5,279.3 426.3,280.1 426.9,281.1 427.5,282.0 428.7,282.2 428.9,283.5 429.5,284.3 430.7,284.5 431.1,285.6 431.6,286.5 432.7,286.8 432.6,288.5 435.1,287.0 435.0,288.7 436.4,288.6 436.1,290.5 437.3,290.7" fill="none" stroke="#000" stroke-width="2.1" stroke-linejoin="round" stroke-linecap="round" /><polyline points="80.0,467.5 80.0,466.5 80.1,465.5 80.1,464.5 80.2,463.5 80.2,462.5 80.3,461.4 80.3,460.4 80.4,459.4 80.4,458.4 80.4,457.4 80.5,456.4 80.5,455.4 80.6,454.4 80.6,453.4 80.7,452.4 80.7,451.4 80.7,450.4 80.8,449.3 80.8,448.3 80.9,447.3 80.9,446.3 81.0,445.3 81.0,444.3 81.1,443.3 81.1,442.3 81.1,441.3 81.2,440.3 81.2,439.3 81.3,438.2 81.3,437.2 81.4,436.2 81.4,435.2 81.4,434.2 81.5,433.2 81.5,432.2 81.6,431.2 81.6,430.2 81.7,429.2 81.7,428.2 81.8,427.1 81.8,426.1 81.8,425.1 81.9,424.1 81.9,423.1 82.0,422.1 82.0,421.1 82.1,420.1 82.1,419.1 82.1,418.1 82.2,417.1 82.2,416.1 82.3,415.0 82.3,414.0 82.4,413.0 82.4,412.0 82.5,411.0 82.5,410.0 82.5,409.0 82.6,408.0 82.6,407.0 82.6,406.0 82.7,405.0 82.7,404.0 82.8,403.0 82.8,402.0 82.8,401.0 82.9,400.0 82.9,399.0 82.9,398.0 83.0,397.0 83.0,396.0 83.0,395.0 83.1,394.0 83.1,393.0 83.2,392.0 83.2,391.0 83.2,390.0 83.3,389.0 83.3,388.0 83.3,387.0 83.4,386.0 83.4,385.0 83.5,384.0 83.5,383.0 83.5,382.0 83.6,381.0 83.6,380.0 83.7,379.0 83.8,378.0 83.9,377.0 84.0,376.0 84.0,375.0 84.1,374.0 84.2,373.0 84.3,372.0 84.4,371.0 84.5,370.0 84.6,369.0 84.7,368.0 84.8,367.0 84.9,366.0 85.0,365.0 85.0,364.0 85.1,363.0 85.2,362.0 85.3,361.0 85.4,360.0 85.5,359.0 85.6,358.0 85.7,357.0 85.7,356.0 85.8,355.0 85.9,354.0 86.0,353.0 86.1,352.0 86.2,351.0 86.2,350.0 86.3,349.0 86.4,348.0 86.5,347.0 86.6,346.0 86.7,345.0 86.8,344.0 86.8,343.0 86.9,342.0 87.0,341.0 87.1,340.0 87.2,339.0 87.3,338.0 87.4,337.0 87.4,336.0 87.5,335.0 87.6,334.0 87.7,333.0 87.8,332.0 87.9,331.0 88.0,330.0 88.1,329.0 88.1,328.0 88.2,327.0 88.3,326.0 88.4,325.0 88.6,324.0 88.8,323.0 88.9,322.0 89.1,321.0 89.3,320.0 89.5,318.9 89.6,317.8 89.8,316.7 89.9,315.5 90.1,314.4 90.2,313.3 90.4,312.2 90.7,311.1 91.0,310.0 91.3,308.9 91.7,307.7 92.0,306.6 92.3,305.5 93.0,304.4 93.8,303.3 94.5,302.2 95.2,301.1 96.0,300.0 96.7,298.9 97.6,297.8 98.4,296.6 99.2,295.5 100.9,294.8 99.9,292.9 101.2,292.2 102.9,291.2 103.5,290.2 104.5,289.6 104.6,288.1 106.1,288.0 106.8,286.9 107.5,285.9 108.1,284.8 109.3,284.1 109.6,283.0 110.4,282.2 110.9,281.2 111.0,279.9 112.3,279.5 113.2,278.8 114.2,278.2 114.7,277.0 115.8,276.5 116.8,275.9 117.6,275.2 118.6,275.0 119.6,274.7 119.9,273.3 120.6,272.5 121.9,272.8 123.0,272.7 124.0,272.2 125.1,271.9 125.9,271.1 126.9,270.7 128.0,270.9 128.8,270.0 129.7,269.4 130.7,269.4 132.1,270.2 133.0,269.7 133.7,268.5 134.6,268.2 135.7,268.2 136.7,267.7 137.9,268.2 138.8,267.6 139.8,267.1 141.0,267.8 141.9,267.0 143.0,267.1 144.0,266.8 145.1,266.6 146.1,266.6 147.1,266.1 148.1,265.6 149.1,265.3 150.2,265.1 151.3,265.3 152.3,265.6 153.4,265.5 154.4,265.7 155.4,265.3 156.4,264.6 157.4,264.5 158.3,263.5 159.5,264.5 160.5,264.8 161.6,264.7 162.6,264.2 163.6,264.1 164.7,264.7 165.7,264.0 166.8,264.4 167.8,264.2 168.8,263.9 169.9,264.4 170.8,263.2 171.9,263.3 172.9,262.9 173.9,262.8 175.0,264.1 176.0,264.3 177.0,263.2 178.0,263.6 179.0,263.9 180.0,263.7 181.0,263.9 182.0,262.5 183.0,262.8 184.0,263.5 185.0,264.1 186.0,263.3 187.0,262.7 188.0,263.0 189.0,262.9 190.0,262.7 191.0,264.2 192.0,262.9 193.0,263.3 194.0,264.6 195.0,264.0 196.0,263.5 197.0,262.9 198.0,263.5 199.0,264.3 200.0,263.7 201.0,264.1 202.0,263.4 203.0,263.6 204.0,263.2 205.0,263.6 206.0,264.1 207.0,262.5 208.0,263.3 209.0,263.5 210.0,263.0 211.0,263.2 212.0,263.9 213.0,264.6 214.0,263.8 215.0,263.6 216.0,262.5 217.0,264.6 218.0,263.5 219.0,263.4 220.0,262.8 221.0,263.4 222.0,262.8 223.0,263.5 224.0,263.7 225.0,263.5 226.0,263.6 227.0,263.0 228.0,264.3 229.0,263.1 230.1,262.4 231.0,263.4 232.0,263.1 233.0,263.0 234.0,263.5 235.0,263.9 236.0,263.1 237.0,263.8 238.0,264.8 239.0,264.4 240.0,263.9 241.0,264.1 242.0,264.0 243.0,264.1 244.0,264.6 245.0,264.2 246.1,262.9 247.0,264.3 248.0,263.9 249.0,264.8 250.0,264.1 251.0,264.7 251.9,266.0 253.0,264.1 254.1,264.1 255.1,264.0 256.1,263.5 257.1,263.9 258.0,265.3 259.0,264.8 260.1,264.1 261.1,264.4 262.0,265.8 263.0,265.0 264.0,265.3 265.0,265.8 265.9,266.5 266.9,266.9 268.0,266.5 269.0,266.0 270.0,266.1 270.8,267.2 271.9,267.2 273.0,266.3 274.0,266.9 275.0,267.0 276.0,267.0 277.0,266.9 278.1,266.5 279.1,267.2 280.2,266.8 280.9,268.6 281.9,268.3 283.1,267.5 283.9,269.2 284.9,269.0 286.2,267.5 286.8,269.9 287.9,269.4 288.8,270.3 290.1,268.5 291.0,269.7 292.0,269.8 293.0,269.8 294.0,270.0 294.9,270.7 296.1,269.3 297.1,269.6 298.1,269.7 299.1,270.3 300.0,270.4 301.0,271.1 302.0,271.2 303.0,271.2 304.0,270.9 305.0,271.1 305.9,272.1 306.9,272.1 308.0,271.8 309.0,271.7 309.9,272.9 311.0,271.7 312.0,272.6 312.9,273.0 314.0,272.3 314.9,273.0 316.1,272.0 316.9,273.4 318.0,273.0 319.1,272.1 320.0,273.5 321.1,272.7 321.9,274.1 323.0,273.1 324.0,273.5 325.0,273.9 326.0,273.6 327.0,274.1 328.0,273.7 329.0,274.6 330.0,274.3 331.0,274.5 332.2,272.9 332.9,275.3 334.0,274.8 335.1,273.8 336.0,275.1 337.0,275.4 337.9,275.9 339.1,274.7 339.9,276.4 341.0,275.5 341.8,277.1 343.0,275.7 344.0,276.3 345.0,275.8 346.1,275.5 346.9,276.9 347.9,276.9 348.9,277.4 349.9,277.1 351.0,276.4 352.1,275.9 353.0,276.6 354.0,276.7 355.1,276.7 356.0,277.7 357.0,277.6 358.0,277.4 359.0,277.8 360.0,277.7 361.0,278.0 362.0,278.3 363.0,278.5 364.0,277.5 365.0,277.1 366.0,278.9 367.0,278.1 368.0,278.8 369.0,277.2 370.0,278.0 371.0,278.3 372.0,277.4 373.0,278.0 374.0,278.8 375.0,279.0 376.0,279.4 377.0,278.0 378.0,277.7 379.0,278.9 379.9,279.2 381.0,278.9 382.1,278.1 382.9,279.5 383.9,279.7 385.0,279.7 386.0,279.2 387.0,279.8 387.9,280.2 389.0,279.6 390.2,279.0 391.0,280.4 392.0,280.6 393.0,280.5 393.9,281.2 395.1,280.4 396.0,280.9 397.0,280.9 398.0,281.5 398.9,282.3 400.0,281.3 401.0,282.8 402.0,282.5 403.0,282.1 404.0,282.0 405.0,282.7 406.0,281.6 407.0,281.7 408.0,281.1 409.0,282.1 410.0,282.7 411.0,282.2 412.0,282.2 413.0,281.8 414.0,282.1 415.0,281.2 416.0,282.7 417.0,281.8 418.0,281.5 419.0,281.7 420.0,281.7 421.0,282.7 422.0,282.9 423.0,281.4 424.0,282.8 425.0,282.8 426.0,281.9 427.0,281.4 428.0,281.8 429.0,281.9 430.0,282.5 431.0,282.1 432.0,281.1 433.0,282.5 434.0,281.4 435.0,282.9 436.0,281.6 437.0,282.0 438.0,281.9 439.0,282.1 439.9,283.2 441.0,283.0 442.0,282.9 443.0,282.8 444.1,281.8 445.0,282.4 446.0,282.5 447.0,282.3 448.0,283.3 449.0,282.6 450.0,282.7 451.0,282.5 452.1,282.0 453.0,283.7 453.9,284.2 455.0,283.6 456.0,282.9 457.1,282.0 458.0,283.8 458.9,284.5 460.0,284.0 461.0,284.4 461.9,284.9 462.9,284.7 464.0,283.9 464.9,284.9 466.0,284.8 467.1,283.5 468.0,284.2 469.1,283.7 470.0,284.6 471.0,285.1 472.1,284.2 473.1,283.7 473.9,285.8 475.0,285.3 475.9,286.0 477.1,284.5 477.9,286.0 478.9,286.7 480.1,286.7 481.0,285.3 482.0,285.6 483.0,285.3 484.0,285.9 485.0,285.9 486.0,285.3 487.0,284.3 488.0,285.5 489.0,284.8 490.0,285.4 491.0,285.1 492.0,285.9 493.0,285.5 494.0,284.5 495.0,285.0 496.1,285.8 497.0,284.3 498.0,284.9 499.0,285.3 500.0,285.3 501.0,284.8 502.0,283.7 503.0,283.8 504.0,284.7 505.0,284.8 506.0,286.1 507.0,284.0 508.0,285.2 509.0,285.0 510.0,283.6 511.0,284.1 512.0,284.7 513.0,284.3 514.0,284.5 515.0,284.9 516.0,284.2 517.0,285.0 518.0,284.4 519.0,284.5 520.0,285.2 521.0,284.5 522.0,285.1 523.0,285.9 524.0,285.0 525.0,285.0 526.0,285.6 527.0,284.9 528.0,285.9 529.0,284.5 530.0,285.3" fill="none" stroke="#000" stroke-width="1.4" stroke-linejoin="round" stroke-linecap="round" />
</g>
<text x="52.3" y="473.5" text-anchor="end" font-size="17.8" font-family="Liberation Sans, sans-serif">-3</text><text x="52.3" y="416.7" text-anchor="end" font-size="17.8" font-family="Liberation Sans, sans-serif">-2</text><text x="52.3" y="359.9" text-anchor="end" font-size="17.8" font-family="Liberation Sans, sans-serif">-1</text><text x="52.3" y="302.6" text-anchor="end" font-size="17.8" font-family="Liberation Sans, sans-serif">0</text><text x="52.3" y="245.8" text-anchor="end" font-size="17.8" font-family="Liberation Sans, sans-serif">1</text><text x="52.3" y="189.0" text-anchor="end" font-size="17.8" font-family="Liberation Sans, sans-serif">2</text><text x="52.3" y="132.2" text-anchor="end" font-size="17.8" font-family="Liberation Sans, sans-serif">3</text><text x="52.3" y="75.4" text-anchor="end" font-size="17.8" font-family="Liberation Sans, sans-serif">4</text><text x="52.3" y="18.6" text-anchor="end" font-size="17.8" font-family="Liberation Sans, sans-serif">5</text><text x="70.2" y="500.80" text-anchor="middle" font-size="17.8" font-family="Liberation Sans, sans-serif">0</text><text x="223.8" y="500.10" text-anchor="middle" font-size="17.8" font-family="Liberation Sans, sans-serif">50</text><text x="377.4" y="499.40" text-anchor="middle" font-size="17.8" font-family="Liberation Sans, sans-serif">100</text><text x="531.0" y="498.70" text-anchor="middle" font-size="17.8" font-family="Liberation Sans, sans-serif">150</text><text x="300" y="532.1" text-anchor="middle" font-size="17.8" font-family="Liberation Sans, sans-serif">t (min)</text><text transform="translate(20.5,238.5) rotate(-90)" text-anchor="middle" font-size="17.8" font-family="Liberation Sans, sans-serif">Heat flow (W)</text><text x="270.4" y="73.1" font-size="17.8" font-family="Liberation Sans, sans-serif">0,646g</text><text x="349.5" y="173.3" font-size="17.8" font-family="Liberation Sans, sans-serif">0,445g</text><text x="402.8" y="226.5" font-size="17.8" font-family="Liberation Sans, sans-serif">0,404g</text><text x="443.6" y="260.4" font-size="17.8" font-family="Liberation Sans, sans-serif">0,1615g</text>
</svg>
</body></html>
